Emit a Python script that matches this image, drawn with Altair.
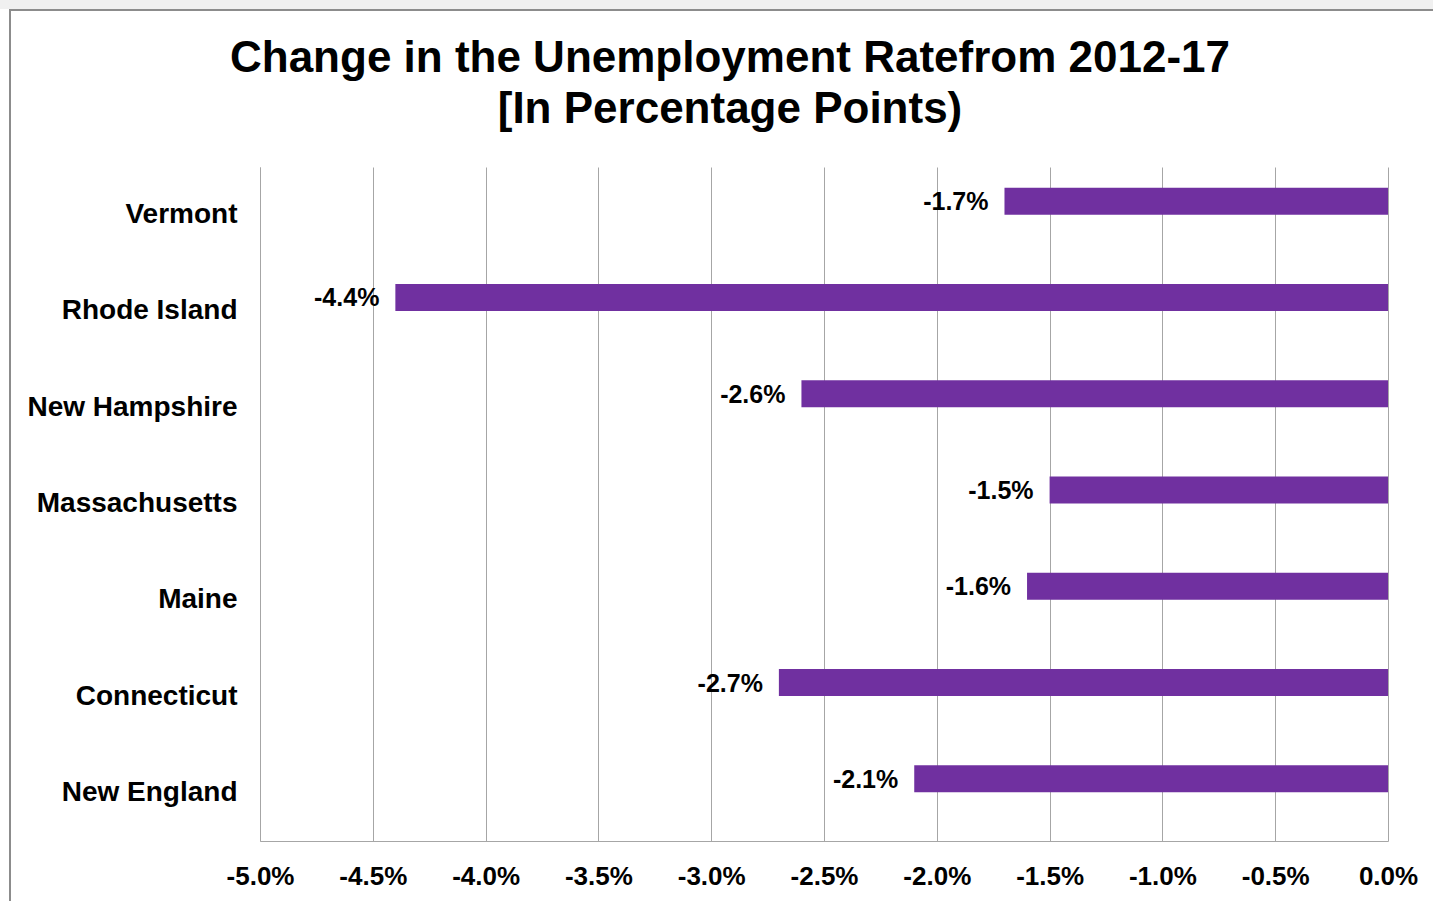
import altair as alt
import pandas as pd

states = ["Vermont", "Rhode Island", "New Hampshire", "Massachusetts",
          "Maine", "Connecticut", "New England"]
changes = [-1.7, -4.4, -2.6, -1.5, -1.6, -2.7, -2.1]
tick_values = [-5.0, -4.5, -4.0, -3.5, -3.0, -2.5, -2.0, -1.5, -1.0, -0.5, 0.0]
title_lines = ["Change in the Unemployment Ratefrom 2012-17", "[In Percentage Points)"]

df = pd.DataFrame({
    "state": states,
    "change": [c / 100 for c in changes],
    "label": [f"{c:.1f}%" for c in changes],
})

FONT = "Liberation Sans"
PURPLE = "#7030A0"
GRID = "#a6a6a6"

y_enc = alt.Y("state:N", sort=states, title=None,
              scale=alt.Scale(paddingInner=0, paddingOuter=0),
              axis=alt.Axis(labelFont=FONT, labelFontSize=28, labelFontWeight="bold",
                            labelColor="black", labelPadding=23, ticks=False,
                            domainColor=GRID, domainWidth=1, labelLimit=400))

x_enc = alt.X("change:Q", title=None,
              scale=alt.Scale(domain=[-0.05, 0], nice=False),
              axis=alt.Axis(values=[round(v / 100, 4) for v in tick_values],
                            labelExpr="replace(format(datum.value, '.1%'), '\u2212', '-')",
                            labelFont=FONT, labelFontSize=26, labelFontWeight="bold",
                            labelColor="black", labelPadding=22, ticks=False,
                            grid=True, gridColor=GRID, gridWidth=1,
                            domainColor=GRID, domainWidth=1, labelFlush=False,
                            labelOverlap=False))

base = alt.Chart(df)

bars = base.mark_bar(color=PURPLE, size=27, yOffset=-14).encode(
    y=y_enc, x=x_enc
)

labels = base.mark_text(font=FONT, fontSize=25, fontWeight="bold", color="black",
                        align="right", baseline="middle", dx=-16, yOffset=-13).encode(
    y=alt.Y("state:N", sort=states),
    x=alt.X("change:Q"),
    text="label:N",
)

frame_df = pd.DataFrame({"a": [0]})
top_strip = alt.Chart(frame_df).mark_rect(fill="#f0f0f0", strokeWidth=0).encode(
    x=alt.value(-260), x2=alt.value(1200), y=alt.value(-167), y2=alt.value(-158)
)
border = alt.Chart(frame_df).mark_rect(fill="white", fillOpacity=0, stroke="#8c8c8c",
                                       strokeWidth=2).encode(
    x=alt.value(-250), x2=alt.value(1200), y=alt.value(-157), y2=alt.value(760)
)

chart = alt.layer(top_strip, border, bars, labels).properties(
    width=1128,
    height=674,
    autosize=alt.AutoSizeParams(type="none"),
    padding={"left": 260, "top": 167, "right": 45, "bottom": 60},
    background="white",
    title=alt.TitleParams(
        text=title_lines,
        font=FONT, fontSize=44, fontWeight="bold", color="black",
        anchor="middle", frame="group", dx=-94, offset=0, dy=132, lineHeight=51,
    ),
).configure_view(strokeWidth=0)

chart.save("out.html", embed_options={"renderer": "svg", "actions": False})
